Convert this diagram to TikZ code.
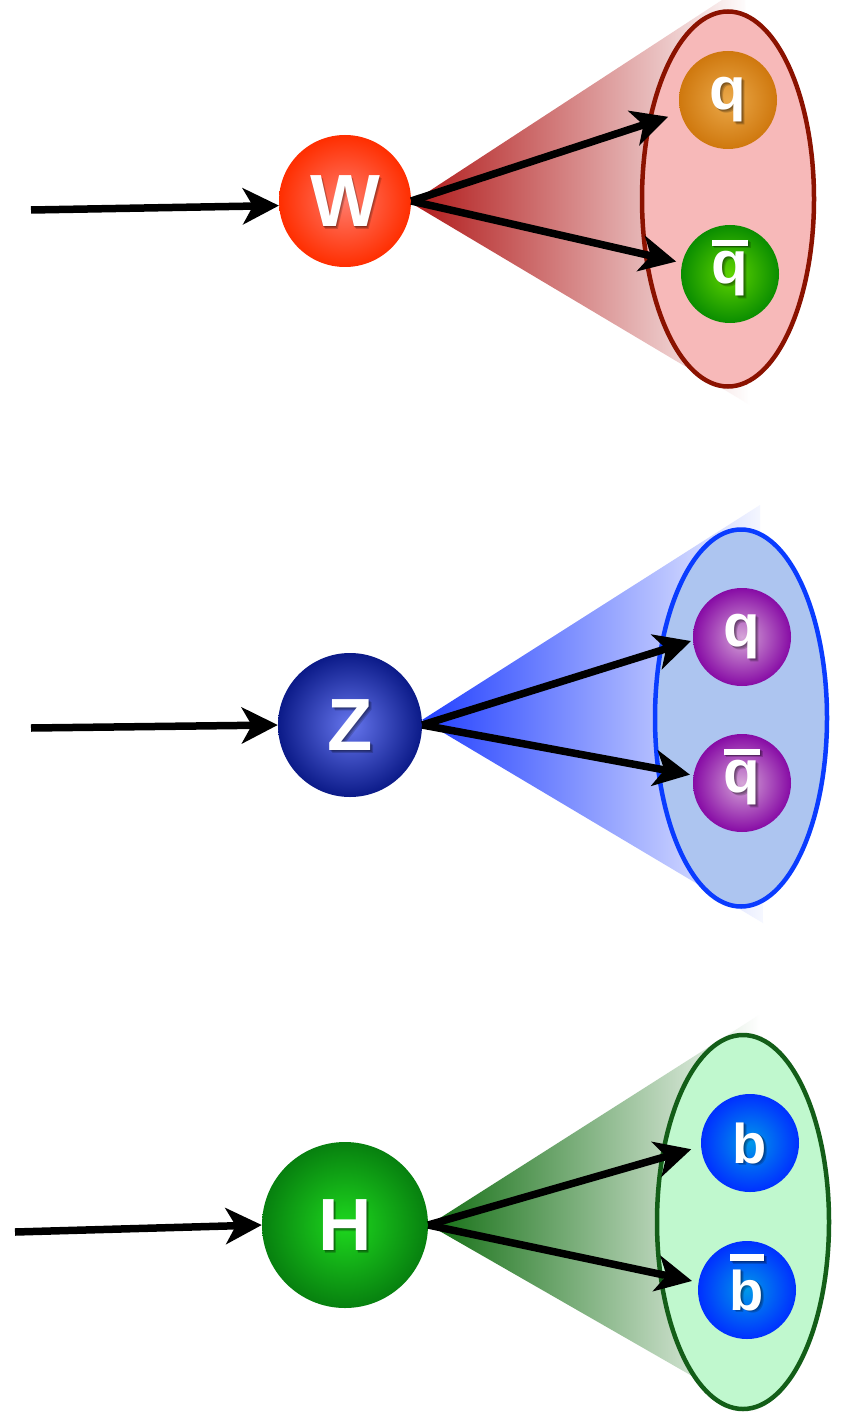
\documentclass[tikz,border=0pt]{standalone}
\usepackage{fontspec}
\setmainfont{Liberation Sans}
\usetikzlibrary{arrows.meta,shapes.geometric}
\newcommand\ovb[3]{\setbox0\hbox{#3}\rlap{\smash{\raisebox{\dimexpr\ht0+#1\relax}{\rule{\wd0}{#2}}}}\box0}
\newcommand\shtext[4]{%
  \foreach \s in {1,2,3}{\node[lbl=#3, text=black, text opacity=0.18] at ([shift={(\s*0.9,\s*0.9)}]#2) {#4};}
  \node[lbl=#3] (#1) at (#2) {#4};
}
\tikzset{
  ball/.style n args={3}{circle, inner sep=0pt, minimum size=#1, inner color=#2, outer color=#3},
  lbl/.style={text=white, inner sep=0pt, font=\fontsize{#1}{#1}\bfseries\selectfont},
  jet/.style n args={3}{ellipse, inner sep=0pt, minimum width=172, minimum height=#1, fill=#2, draw=#3, line width=4.5pt},
  arr/.style={line width=7.5pt, -{Stealth[length=36pt,width=36pt,inset=10pt]}},
}
\definecolor{wred}{HTML}{FF2E00}
\begin{document}
\begin{tikzpicture}[x=1pt,y=-1pt]
\useasboundingbox (0,0) rectangle (845,1412);
\clip (0,0) rectangle (845,1412);
\fill[white] (0,0) rectangle (845,1412);
% ---------------- W ----------------
\shade[left color={rgb,255:red,176;green,24;blue,24}, right color=white] (411,203) -- (745,-15) -- (750,405) -- cycle;
\node[jet={375}{{rgb,255:red,247;green,185;blue,185}}{{rgb,255:red,139;green,18;blue,0}}] (We) at (728,199) {};
\node[ball={132}{{rgb,255:red,255;green,123;blue,107}}{wred}] (W) at (345,201) {};
\node[ball={98}{{rgb,255:red,235;green,169;blue,74}}{{rgb,255:red,207;green,120;blue,14}}] (qW) at (728,100) {};
\node[ball={98}{{rgb,255:red,95;green,212;blue,0}}{{rgb,255:red,10;green,141;blue,0}}] (qbW) at (730,274) {};
\shtext{Wt}{W}{74}{W}
\shtext{qWt}{qW}{60}{q}
\shtext{qbWt}{qbW}{60}{\ovb{0.1em}{0.1em}{q}}
\coordinate (w0) at (31,210);
\draw[arr] (w0) -- (W.184);
\draw[arr, shorten >=13pt] (W.east) -- (qW.195.8);
\draw[arr, shorten >=6pt] (W.east) -- (qbW.167.5);
% ---------------- Z ----------------
\shade[left color={rgb,255:red,34;green,64;blue,255}, right color={rgb,255:red,246;green,248;blue,255}] (422,720) -- (760,505) -- (763,923) -- cycle;
\node[jet={377}{{rgb,255:red,173;green,197;blue,240}}{{rgb,255:red,10;green,60;blue,255}}] (Ze) at (741,718) {};
\node[ball={144}{{rgb,255:red,102;green,118;blue,238}}{{rgb,255:red,11;green,26;blue,136}}] (Z) at (350,725) {};
\node[ball={98}{{rgb,255:red,214;green,166;blue,216}}{{rgb,255:red,135;green,11;blue,165}}] (qZ) at (742,637) {};
\node[ball={98}{{rgb,255:red,214;green,166;blue,216}}{{rgb,255:red,135;green,11;blue,165}}] (qbZ) at (742,783) {};
\shtext{Zt}{Z}{74}{Z}
\shtext{qZt}{qZ}{60}{q}
\shtext{qbZt}{qbZ}{60}{\ovb{0.1em}{0.1em}{q}}
\coordinate (z0) at (31,728);
\draw[arr] (z0) -- (Z.west);
\draw[arr, shorten >=2pt] (Z.east) -- (qZ.184.5);
\draw[arr, shorten >=3.5pt] (Z.east) -- (qbZ.171.3);
% ---------------- H ----------------
\shade[left color={rgb,255:red,18;green,110;blue,18}, right color=white] (429,1225) -- (759,1015) -- (760,1415) -- cycle;
\node[jet={374}{{rgb,255:red,192;green,248;blue,206}}{{rgb,255:red,19;green,94;blue,24}}] (He) at (743,1222) {};
\node[ball={166}{{rgb,255:red,30;green,216;blue,30}}{{rgb,255:red,7;green,128;blue,15}}] (H) at (345,1225) {};
\node[ball={98}{{rgb,255:red,0;green,152;blue,234}}{{rgb,255:red,0;green,48;blue,255}}] (bH) at (750,1143) {};
\node[ball={98}{{rgb,255:red,0;green,152;blue,234}}{{rgb,255:red,0;green,48;blue,255}}] (bbH) at (747,1290) {};
\shtext{Ht}{H}{74}{H}
\shtext{bHt}{bH}{56}{b}
\shtext{bbHt}{bbH}{56}{\ovb{0.15em}{0.13em}{b}}
\coordinate (h0) at (15,1232);
\draw[arr] (h0) -- (H.west);
\draw[arr, shorten >=10pt] (H.east) -- (bH.184.8);
\draw[arr, shorten >=6.5pt] (H.east) -- (bbH.171.7);
\end{tikzpicture}
\end{document}
